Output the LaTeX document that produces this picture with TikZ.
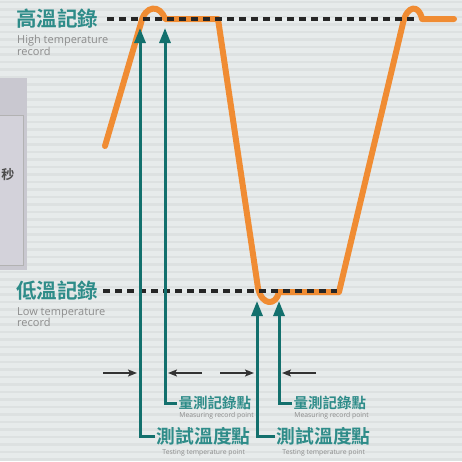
\documentclass[tikz,border=0pt]{standalone}
\usepackage{fontspec}
\setmainfont{Open Sans}
\newfontfamily\cjk{Noto Sans CJK TC Bold}
\usetikzlibrary{arrows.meta,positioning}
\definecolor{paper}{HTML}{E7EBEB}
\definecolor{stripe}{HTML}{DDE1E1}
\definecolor{templine}{HTML}{F08C33}
\definecolor{titleteal}{HTML}{2E8C89}
\definecolor{probeteal}{HTML}{13706D}
\definecolor{notegray}{HTML}{8C8C8C}
\definecolor{panelout}{HTML}{C9C8D0}
\definecolor{panelin}{HTML}{D3D2DA}

\begin{document}
\begin{tikzpicture}[x=1pt,y=-1pt,
    curve/.style={line width=6pt, draw=templine, line join=round, line cap=round},
    recline/.style={line width=3.2pt, dash pattern=on 7pt off 5pt, draw=black!85},
    probe/.style={line width=3pt, draw=probeteal, -{Triangle[length=15pt,width=11pt]}},
    gap/.style={line width=2.4pt, draw=black!80, -{Stealth[length=9pt,width=7pt,inset=2pt]}},
    title/.style={font=\cjk\fontsize{20.5}{20.5}\selectfont, text=titleteal, inner sep=0pt, anchor=west},
    note/.style={font=\fontsize{11}{11.5}\selectfont, text=notegray, inner sep=0pt, align=left, anchor=north west},
    testlabel/.style={font=\cjk\fontsize{18.8}{18.8}\selectfont, text=titleteal, inner sep=1.5pt, anchor=west},
    reclabel/.style={font=\cjk\fontsize{14.5}{14.5}\selectfont, text=titleteal, inner sep=1.5pt, anchor=west},
    small/.style={font=\fontsize{6.8}{7}\selectfont, text=notegray, inner sep=0pt}]
    \useasboundingbox (0,0) rectangle (462,461);

    % Background
    \fill[paper] (0,0) rectangle (462,461);
    \foreach \y in {2,9.5,...,461}
        \draw[stripe, line width=2.5pt] (0,\y) -- (462,\y);

    % Side panel
    \fill[panelout] (0,78) rectangle (27,270);
    \filldraw[fill=panelin, draw=black!30] (-1,115) rectangle (23,265);
    \node[font=\cjk\fontsize{13}{13}\selectfont, text=black!70] (unit) at (8,175) {秒};

    % Labels
    \node[title] (high) at (16,19) {高溫記錄};
    \node[note] (highen) at (17,35) {High temperature\\record};
    \node[title] (low) at (16,291) {低溫記錄};
    \node[note] (lowen) at (17,307) {Low temperature\\record};

    \node[reclabel] (recL) at (177,403) {量測記錄點};
    \node[small, below left=1pt and -1pt of recL.south east] (recLen) {Measuring record point};
    \node[testlabel] (testL) at (155,436) {測試溫度點};
    \node[small, below=3pt of testL] (testLen) {Testing temperature point};
    \node[reclabel] (recR) at (292,403) {量測記錄點};
    \node[small, below left=1pt and -1pt of recR.south east] (recRen) {Measuring record point};
    \node[testlabel] (testR) at (275,436) {測試溫度點};
    \node[small, below=3pt of testR] (testRen) {Testing temperature point};

    % Temperature curve
    \draw[curve] (105,146) -- (141,23) .. controls (145,5) and (160,4) .. (165,19)
        -- (218,19) -- (258,288) .. controls (262,306) and (276,306) .. (279,292)
        -- (339,292) -- (403,23) .. controls (407,5) and (419,4) .. (422,19) -- (454,19);

    % Record levels
    \coordinate (highend) at (415,19);
    \coordinate (lowend) at (337,291);
    \draw[recline] ([xshift=9pt]high.east) -- (highend);
    \draw[recline] ([xshift=5pt]low.east) -- (lowend);

    % Probe arrows
    \coordinate (tipA) at (140,28);
    \coordinate (tipB) at (165,28);
    \coordinate (tipC) at (257,301);
    \coordinate (tipD) at (279,301);
    \draw[probe] (testL.west) -| (tipA);
    \draw[probe] (recL.west) -| (tipB);
    \draw[probe] (testR.west) -| (tipC);
    \draw[probe] (recR.west) -| (tipD);

    % Interval arrows
    \coordinate (g1) at (103,373);
    \coordinate (g2) at (202,373);
    \coordinate (g3) at (220,373);
    \coordinate (g4) at (316,373);
    \draw[gap] (g1) -- ([xshift=-3pt]tipA |- g1);
    \draw[gap] (g2) -- ([xshift=3pt]tipB |- g2);
    \draw[gap] (g3) -- ([xshift=-3pt]tipC |- g3);
    \draw[gap] (g4) -- ([xshift=3pt]tipD |- g4);
\end{tikzpicture}
\end{document}
